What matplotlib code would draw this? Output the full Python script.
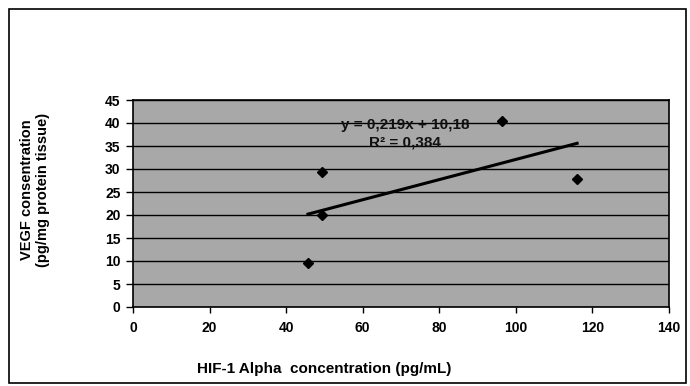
import numpy as np
import matplotlib
matplotlib.use("Agg")
import matplotlib.pyplot as plt
from matplotlib.patches import Rectangle

hif = [45.7, 49.3, 49.3, 96.3, 116.0]
vegf = [9.6, 29.3, 20.0, 40.5, 27.9]
slope = 0.219
intercept = 10.18
eq_text = "y = 0,219x + 10,18"
r2_text = "R² = 0,384"
x_ticks = [0, 20, 40, 60, 80, 100, 120, 140]
y_ticks = [0, 5, 10, 15, 20, 25, 30, 35, 40, 45]

plt.rcParams['font.family'] = ['Liberation Sans', 'DejaVu Sans']

fig = plt.figure(figsize=(6.9, 3.86), dpi=100)
ax = fig.add_axes([133/690, 1-307/386, (669-133)/690, (307-100)/386])
ax.set_facecolor('#a8a8a8')
ax.set_xlim(0, 140)
ax.set_ylim(0, 45)
ax.set_xticks(x_ticks)
ax.set_yticks(y_ticks)
ax.set_xticklabels([str(v) for v in x_ticks], fontsize=10, fontweight='bold')
ax.set_yticklabels([str(v) for v in y_ticks], fontsize=10, fontweight='bold')
ax.tick_params(axis='x', direction='out', length=4, width=1, pad=6)
ax.tick_params(axis='y', direction='out', length=5, width=1, pad=4)
for s in ax.spines.values():
    s.set_color('black')
    s.set_linewidth(1.2)
ax.yaxis.grid(True, color='black', linewidth=1.0)
ax.set_axisbelow(True)

ax.plot(hif, vegf, linestyle='none', marker='D', color='black', markersize=5.5, zorder=3)
xs = np.array([min(hif), max(hif)])
ax.plot(xs, slope*xs + intercept, color='black', linewidth=2.2, zorder=3)

ax.text(71, 39.6, eq_text, fontsize=11, fontweight='bold', ha='center', va='center', color='#111111')
ax.text(71, 35.7, r2_text, fontsize=11, fontweight='bold', ha='center', va='center', color='#111111')

fig.text(35/690, 1-190/386, "VEGF consentration\n(pg/mg protein tissue)", rotation=90,
         ha='center', va='center', fontsize=10.5, fontweight='bold', linespacing=1.25)
fig.text(197/690, 1-369/386, "HIF-1 Alpha  concentration (pg/mL)", ha='left', va='center',
         fontsize=11, fontweight='bold')

fig.patches.append(Rectangle((9/690, 3/386), (686-9)/690, (377-3)/386, transform=fig.transFigure,
                             fill=False, edgecolor='black', linewidth=1.2))

fig.savefig('out.png', dpi=100)
